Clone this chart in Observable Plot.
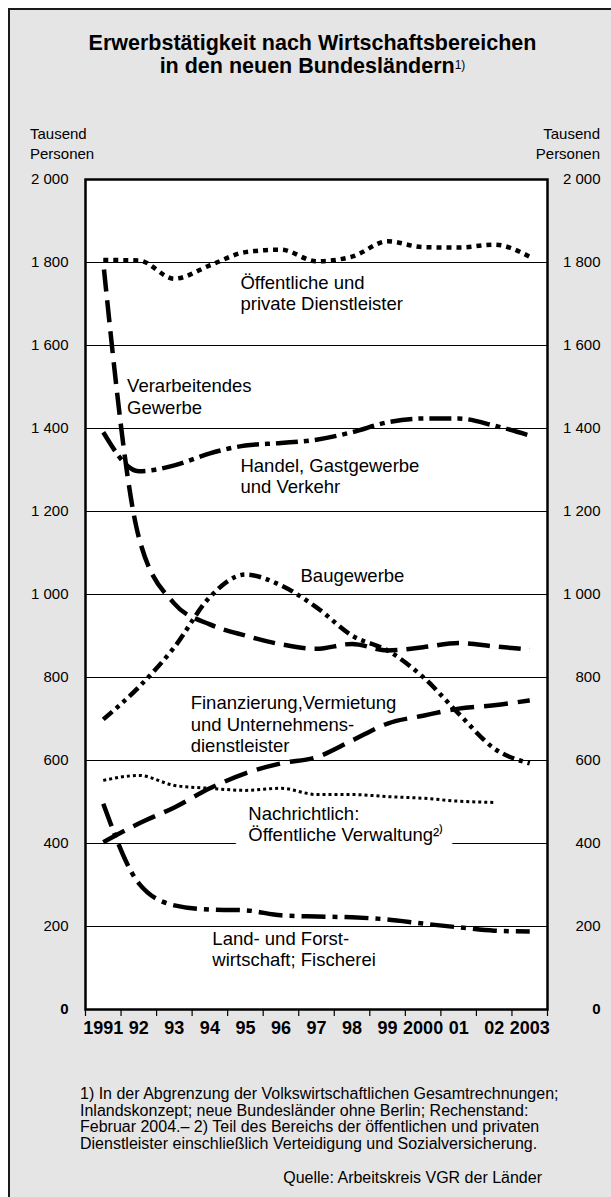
<!DOCTYPE html>
<html>
<head>
<meta charset="utf-8">
<script src="https://cdn.jsdelivr.net/npm/d3@7"></script>
<script src="https://cdn.jsdelivr.net/npm/@observablehq/plot@0.6"></script>
<style>
  html, body { margin: 0; padding: 0; background: #fff; }
  body { width: 611px; height: 1197px; position: relative; overflow: hidden;
         font-family: "Liberation Sans", Arial, Helvetica, sans-serif; color: #000; }
  #card { position: absolute; left: 8px; top: 8px; width: 640px; height: 1240px;
          background: #e5e5e5; border: 2px solid #1a1a1a; }
  #title { position: absolute; left: 0; top: 32px; width: 625px; text-align: center;
           font-weight: bold; font-size: 21.5px; line-height: 23px; }
  #title sup { font-size: 12px; font-weight: normal; vertical-align: 4px; line-height: 0; }
  .unit { position: absolute; top: 124px; font-size: 15px; line-height: 20px; }
  #unitL { left: 30px; text-align: left; }
  #unitR { left: 500px; width: 100px; text-align: right; }
  #chart { position: absolute; left: 0; top: 159px; }
  #notes { position: absolute; left: 80px; top: 1086px; width: 530px; font-size: 16px; line-height: 16.5px; white-space: nowrap; }
  #source { position: absolute; left: 250px; width: 292px; top: 1169px; text-align: right; font-size: 16px; }
</style>
</head>
<body>
<div id="card"></div>
<div id="title">Erwerbstätigkeit nach Wirtschaftsbereichen<br>in den neuen Bundesländern<sup>1)</sup></div>
<div class="unit" id="unitL">Tausend<br>Personen</div>
<div class="unit" id="unitR">Tausend<br>Personen</div>
<div id="chart"></div>
<div id="notes">1) In der Abgrenzung der Volkswirtschaftlichen Gesamtrechnungen;<br>Inlandskonzept; neue Bundesländer ohne Berlin; Rechenstand:<br>Februar 2004.– 2) Teil des Bereichs der öffentlichen und privaten<br>Dienstleister einschließlich Verteidigung und Sozialversicherung.</div>
<div id="source">Quelle: Arbeitskreis VGR der Länder</div>
<script>
// ---- data ----
const years = [1991,1992,1993,1994,1995,1996,1997,1998,1999,2000,2001,2002,2003];
const yearLabels = ["1991","92","93","94","95","96","97","98","99","2000","01","02","2003"];
const yTicks = [200,400,600,800,1000,1200,1400,1600,1800,2000];
const gridValues = [200,400,600,800,1000,1200,1400,1600,1800];

const oeffentlichePrivate = [1806,1805,1761,1793,1825,1831,1803,1814,1851,1837,1836,1843,1814];
const verarbeitendes      = [1800,1138,978,928,901,880,869,881,865,873,883,875,867];
const handel              = [1391,1297,1311,1340,1359,1365,1373,1391,1415,1424,1424,1407,1383];
const baugewerbe          = [699,777,873,994,1048,1022,969,901,865,801,713,629,593];
const finanzierung        = [403,448,487,533,569,593,608,648,689,708,725,733,745];
const verwaltungYears     = [1991,1992,1993,1994,1995,1996,1997,1998,1999,2000,2001,2002];
const verwaltung          = [552,564,540,533,528,533,518,518,513,509,502,499];
const landForst           = [496,304,251,241,239,227,224,222,217,207,198,190,188];

// annotation texts with anchor positions in data units (year, Tsd. Personen)
const labelTexts = [
  "Öffentliche und\nprivate Dienstleister",
  "Verarbeitendes\nGewerbe",
  "Handel, Gastgewerbe\nund Verkehr",
  "Baugewerbe",
  "Finanzierung,Vermietung\nund Unternehmens-\ndienstleister",
  "Nachrichtlich:",
  "Land- und Forst-\nwirtschaft; Fischerei"
];
const labelX = [1994.86, 1991.67, 1994.86, 1996.55, 1993.46, 1995.08, 1994.07];
const labelY = [1727, 1478, 1287, 1046, 688, 472, 147];
const haloText = "Öffentliche Verwaltung²⁾";
const haloX = 1995.08, haloY = 421;

// ---- build tables ----
const toRows = (xs, vs) => xs.map((x, i) => ({year: x, value: vs[i]}));
const labels = labelTexts.map((t, i) => ({text: t, x: labelX[i], y: labelY[i]}));
const halfYears = d3.range(years.length + 1).map(i => years[0] - 0.5 + i);
const fmt = d => d >= 1000 ? `${Math.floor(d / 1000)} ${String(d % 1000).padStart(3, "0")}` : String(d);

const font = '"Liberation Sans", Arial, Helvetica, sans-serif';
const lineStyle = (dash, w = 4, off = 0) => ({x: "year", y: "value", stroke: "black", strokeWidth: w,
  strokeDasharray: dash, strokeDashoffset: off, curve: "monotone-x", strokeLinecap: "butt"});

const chart = Plot.plot({
  width: 611,
  height: 890,
  marginLeft: 85,
  marginRight: 64,
  marginTop: 20,
  marginBottom: 40,
  x: {domain: [1990.5, 2003.5], label: null},
  y: {domain: [0, 2000], label: null},
  style: {fontFamily: font, background: "transparent", color: "black", overflow: "visible"},
  marks: [
    Plot.frame({fill: "white", stroke: null}),
    Plot.ruleY(gridValues, {stroke: "black", strokeWidth: 1}),
    Plot.text([{t: haloText}], {x: () => haloX, y: () => haloY, text: "t", textAnchor: "start",
      fontSize: 18.5, fill: "black", stroke: "white", strokeWidth: 30, strokeLinejoin: "round"}),
    Plot.line(toRows(years, oeffentlichePrivate), lineStyle("5,5", 4.5)),
    Plot.line(toRows(years, verarbeitendes), lineStyle("22,9", 4.5, 24)),
    Plot.line(toRows(years, handel), lineStyle("22,6,5,6", 4.5)),
    Plot.line(toRows(years, baugewerbe), lineStyle("12,5,4,5,4,5", 4.5)),
    Plot.line(toRows(years, finanzierung), lineStyle("24,10", 4.5)),
    Plot.line(toRows(verwaltungYears, verwaltung), lineStyle("3,3", 3)),
    Plot.line(toRows(years, landForst), lineStyle("24,7,5,7", 4.5)),
    Plot.text(labels, {x: "x", y: "y", text: "text", textAnchor: "start", lineAnchor: "middle",
      fontSize: 18.5, lineHeight: 1.16, fill: "black"}),
    Plot.frame({stroke: "black", strokeWidth: 2.5}),
    Plot.axisY(yTicks, {anchor: "left", tickSize: 0, tickPadding: 17, tickFormat: fmt, fontSize: 15}),
    Plot.axisY(yTicks, {anchor: "right", tickSize: 0, tickPadding: 53, textAnchor: "end", tickFormat: fmt, fontSize: 15}),
    Plot.axisY([0], {anchor: "left", tickSize: 0, tickPadding: 17, tickFormat: fmt, fontSize: 15, fontWeight: "bold"}),
    Plot.axisY([0], {anchor: "right", tickSize: 0, tickPadding: 53, textAnchor: "end", tickFormat: fmt, fontSize: 15, fontWeight: "bold"}),
    Plot.axisX(halfYears, {anchor: "bottom", tickSize: 7, tickFormat: () => "", strokeWidth: 1.2}),
    Plot.axisX(years, {anchor: "bottom", tickSize: 0, tickPadding: 12, tickFormat: d => yearLabels[years.indexOf(d)],
      fontSize: 18, fontWeight: "bold"})
  ]
});
document.getElementById("chart").appendChild(chart);
</script>
</body>
</html>
